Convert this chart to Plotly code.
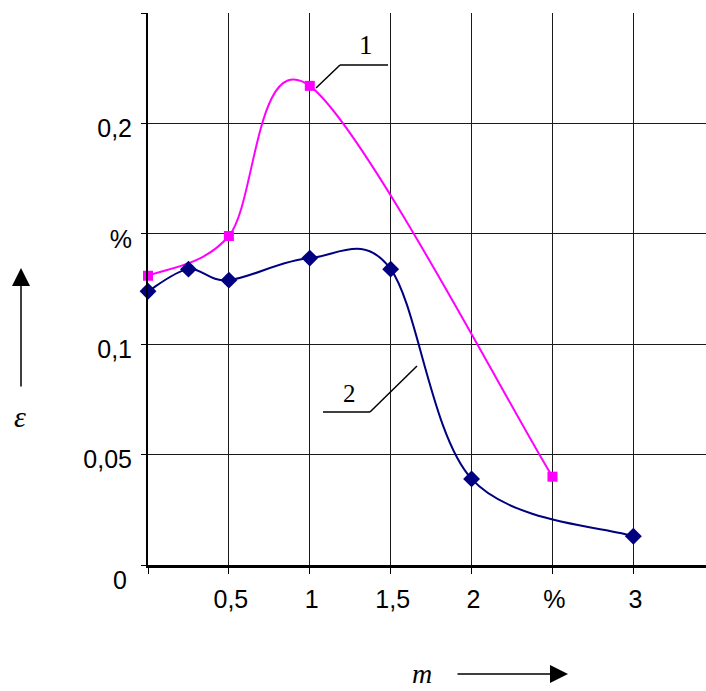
import plotly.graph_objects as go

# ---- data ----
curve1_x = [0, 0.5, 1, 2.5]
curve1_y = [0.131, 0.149, 0.217, 0.040]
curve2_x = [0, 0.25, 0.5, 1, 1.5, 2, 3]
curve2_y = [0.124, 0.134, 0.129, 0.139, 0.134, 0.039, 0.013]

x_tick_vals = [0, 0.5, 1, 1.5, 2, 2.5, 3]
x_tick_text = ["", "0,5", "1", "1,5", "2", "%", "3"]
y_tick_vals = [0, 0.05, 0.1, 0.15, 0.2, 0.25]
y_tick_text = ["0", "0,05", "0,1", "%", "0,2", ""]

curve_labels = ["1", "2"]
x_title = "m"
y_title = "ε"

# ---- layout geometry (pixels) ----
W, H = 706, 691
L, R, T, B = 148, 0, 13, 126
PW, PH = W - L - R, H - T - B
X_MAX = 3.449
Y_MAX = 0.25

MAGENTA = "#FF00FF"
NAVY = "#000080"
SANS = "Liberation Sans, Arial, sans-serif"
SERIF = "Liberation Serif, Times New Roman, serif"


def pp(px, py):
    """pixel -> paper coordinates"""
    return (px - L) / PW, (H - B - py) / PH


def smooth_path(xs, ys):
    """Excel-style smoothed line (Catmull-Rom as cubic Bezier) built from the data."""
    n = len(xs)
    pts = list(zip(xs, ys))
    d = f"M{xs[0]},{ys[0]}"
    for i in range(n - 1):
        p0 = pts[i - 1] if i > 0 else pts[i]
        p1 = pts[i]
        p2 = pts[i + 1]
        p3 = pts[i + 2] if i + 2 < n else pts[i + 1]
        c1 = (p1[0] + (p2[0] - p0[0]) / 6, p1[1] + (p2[1] - p0[1]) / 6)
        c2 = (p2[0] - (p3[0] - p1[0]) / 6, p2[1] - (p3[1] - p1[1]) / 6)
        d += f" C{c1[0]},{c1[1]} {c2[0]},{c2[1]} {p2[0]},{p2[1]}"
    return d


fig = go.Figure()
fig.add_trace(go.Scatter(x=curve1_x, y=curve1_y, mode="markers", name=curve_labels[0],
                         marker=dict(symbol="square", size=10, color=MAGENTA),
                         cliponaxis=False))
fig.add_trace(go.Scatter(x=curve2_x, y=curve2_y, mode="markers", name=curve_labels[1],
                         marker=dict(symbol="diamond", size=13, color=NAVY),
                         cliponaxis=False))

shapes = [
    dict(type="path", xref="x", yref="y", path=smooth_path(curve1_x, curve1_y),
         line=dict(color=MAGENTA, width=2), layer="between"),
    dict(type="path", xref="x", yref="y", path=smooth_path(curve2_x, curve2_y),
         line=dict(color=NAVY, width=2), layer="between"),
]


def seg(p1, p2):
    a = pp(*p1)
    b = pp(*p2)
    return dict(type="line", xref="paper", yref="paper", x0=a[0], y0=a[1], x1=b[0], y1=b[1],
                line=dict(color="black", width=1.5), layer="above")


# leader lines for curve labels
shapes += [seg((316, 88), (340, 65)), seg((340, 65), (388, 65)),
           seg((417, 366), (370, 412)), seg((370, 412), (323, 412))]

annotations = []


def text_ann(txt, px, py, size, family, italic=False):
    x, y = pp(px, py)
    annotations.append(dict(text=txt, x=x, y=y, xref="paper", yref="paper", showarrow=False,
                            xanchor="center", yanchor="middle",
                            font=dict(size=size, family=family, color="black",
                                      style="italic" if italic else "normal")))


text_ann(curve_labels[0], 366, 45, 27, SERIF)
text_ann(curve_labels[1], 349, 393, 25, SERIF)
text_ann(y_title, 20, 416, 30, SERIF, italic=True)
text_ann(x_title, 422, 674, 28, SERIF, italic=True)
text_ann(y_tick_text[0], 120, 580, 25, SANS)


def arrow(head, tail):
    x, y = pp(*head)
    annotations.append(dict(text="", x=x, y=y, xref="paper", yref="paper",
                            ax=tail[0] - head[0], ay=tail[1] - head[1],
                            showarrow=True, arrowhead=2, arrowsize=2.4, arrowwidth=1.5,
                            arrowcolor="black"))


arrow((21, 268), (21, 388))
arrow((568, 674), (456, 674))

fig.update_layout(
    width=W, height=H,
    margin=dict(l=L, r=R, t=T, b=B, pad=0),
    paper_bgcolor="white", plot_bgcolor="white",
    showlegend=False,
    shapes=shapes,
    annotations=annotations,
    xaxis=dict(range=[0, X_MAX], tickmode="array", tickvals=x_tick_vals, ticktext=x_tick_text,
               showgrid=True, gridcolor="#1a1a1a", gridwidth=1,
               showline=True, linecolor="black", linewidth=2.5, zeroline=False,
               ticks="outside", ticklen=6, tickcolor="black", tickwidth=1,
               ticklabelstandoff=4, ticklabelshift=2,
               tickfont=dict(family=SANS, size=25, color="black")),
    yaxis=dict(range=[0, Y_MAX], tickmode="array", tickvals=y_tick_vals,
               ticktext=[""] + y_tick_text[1:],
               showgrid=True, gridcolor="#1a1a1a", gridwidth=1,
               showline=True, linecolor="black", linewidth=2, zeroline=False,
               ticks="outside", ticklen=5, tickcolor="black", tickwidth=1,
               ticklabelstandoff=4, ticklabelshift=5,
               tickfont=dict(family=SANS, size=25, color="black")),
)

fig.write_html("out.html", config={"displayModeBar": False},
               post_script="document.body.style.margin='0';document.body.style.overflow='hidden';")
